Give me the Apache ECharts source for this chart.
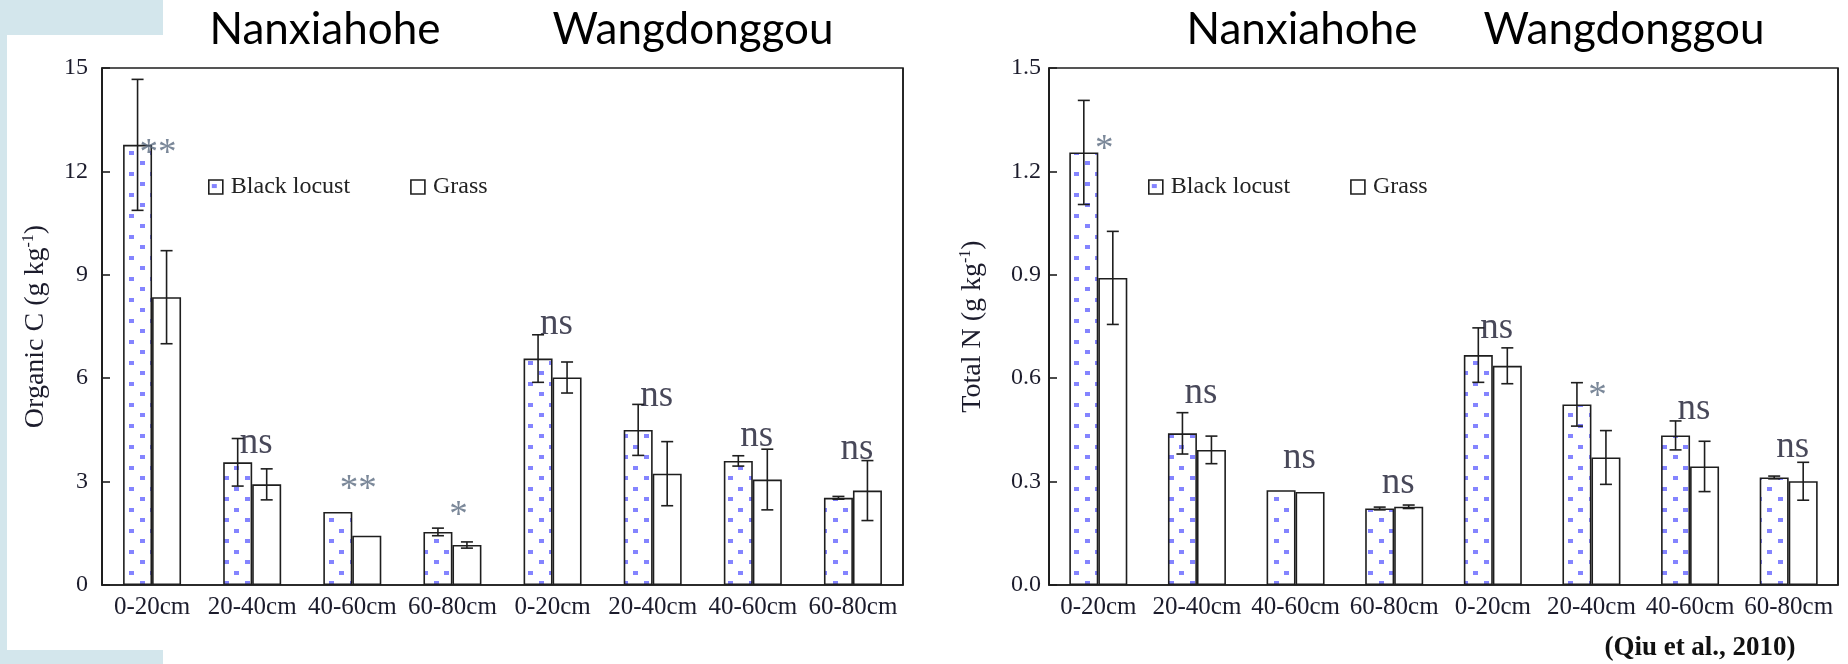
<!DOCTYPE html>
<html>
<head>
<meta charset="utf-8">
<script src="https://cdn.jsdelivr.net/npm/echarts@6/dist/echarts.min.js"></script>
<style>
html, body { margin: 0; padding: 0; background: #fff; }
#chart { width: 1848px; height: 664px; }
</style>
</head>
<body>
<div id="chart"></div>
<script>
// depth classes, repeated for the two catchments
const depths = ['0-20cm', '20-40cm', '40-60cm', '60-80cm'];
const categories = depths.concat(depths);
const sites = ['Nanxiahohe', 'Wangdonggou'];

// Organic C (g/kg)
const carbonLocust = [12.77, 3.56, 2.12, 1.54, 6.57, 4.50, 3.60, 2.53];
const carbonLocustErr = [1.90, 0.69, 0, 0.11, 0.69, 0.74, 0.15, 0.04];
const carbonGrass = [8.35, 2.92, 1.43, 1.16, 6.02, 3.23, 3.06, 2.74];
const carbonGrassErr = [1.35, 0.45, 0, 0.09, 0.45, 0.93, 0.88, 0.87];
const carbonSig = ['**', 'ns', '**', '*', 'ns', 'ns', 'ns', 'ns'];
const carbonSigAt = [12.8, 4.1, 3.05, 2.27, 7.57, 5.48, 4.32, 3.95];

// Total N (g/kg)
const nitrogenLocust = [1.255, 0.440, 0.275, 0.222, 0.667, 0.524, 0.434, 0.312];
const nitrogenLocustErr = [0.151, 0.060, 0, 0.004, 0.079, 0.063, 0.042, 0.004];
const nitrogenGrass = [0.891, 0.392, 0.270, 0.227, 0.636, 0.370, 0.344, 0.301];
const nitrogenGrassErr = [0.135, 0.040, 0, 0.005, 0.052, 0.078, 0.073, 0.055];
const nitrogenSig = ['*', 'ns', 'ns', 'ns', 'ns', '*', 'ns', 'ns'];
const nitrogenSigAt = [1.29, 0.557, 0.368, 0.296, 0.745, 0.573, 0.511, 0.401];

const carbonTicks = { min: 0, max: 15, interval: 3 };
const nitrogenTicks = { min: 0, max: 1.5, interval: 0.3 };

const BAR_W = 29;
const INK = '#1e1e1e';
const SERIF = '"Liberation Serif", "Times New Roman", serif';

// dotted fill for black locust bars
const dots = document.createElement('canvas');
dots.width = 21; dots.height = 21;
const dc = dots.getContext('2d');
dc.fillStyle = '#fff';
dc.fillRect(0, 0, 21, 21);
dc.fillStyle = '#8484ff';
dc.fillRect(3, 4, 5, 4);
dc.fillRect(14, 14, 5, 4);
const dotPattern = { image: dots, repeat: 'repeat' };

const myChart = echarts.init(document.getElementById('chart'));

function errorBars(side) {
  return function (params, api) {
    const i = api.value(0), m = api.value(1), e = api.value(2);
    if (!e) return null;
    const top = api.coord([i, m + e]);
    const bot = api.coord([i, m - e]);
    const x = top[0] + side * BAR_W / 2;
    const cap = 6;
    const st = { stroke: INK, lineWidth: 1.6 };
    return {
      type: 'group',
      children: [
        { type: 'line', shape: { x1: x, y1: top[1], x2: x, y2: bot[1] }, style: st },
        { type: 'line', shape: { x1: x - cap, y1: top[1], x2: x + cap, y2: top[1] }, style: st },
        { type: 'line', shape: { x1: x - cap, y1: bot[1], x2: x + cap, y2: bot[1] }, style: st }
      ]
    };
  };
}

function panelSeries(k, locust, locustErr, grass, grassErr, sig, sigAt) {
  return [
    {
      name: 'Black locust', type: 'bar', xAxisIndex: k, yAxisIndex: k,
      data: locust, barWidth: BAR_W, barGap: '0%',
      itemStyle: { color: dotPattern, borderColor: INK, borderWidth: 1.6 }
    },
    {
      name: 'Grass', type: 'bar', xAxisIndex: k, yAxisIndex: k,
      data: grass, barWidth: BAR_W, barGap: '0%',
      itemStyle: { color: '#fff', borderColor: INK, borderWidth: 1.6 }
    },
    {
      type: 'custom', xAxisIndex: k, yAxisIndex: k, clip: false, z: 5,
      renderItem: errorBars(-1),
      data: locust.map((v, i) => [i, v, locustErr[i]])
    },
    {
      type: 'custom', xAxisIndex: k, yAxisIndex: k, clip: false, z: 5,
      renderItem: errorBars(1),
      data: grass.map((v, i) => [i, v, grassErr[i]])
    },
    {
      type: 'scatter', xAxisIndex: k, yAxisIndex: k, symbolSize: 0, z: 6,
      data: sig.map((s, i) => {
        const star = s.indexOf('*') >= 0;
        return {
          value: [i, sigAt[i]],
          label: {
            show: true, position: 'inside', formatter: s,
            fontFamily: SERIF, fontSize: 37,
            color: star ? '#5a6a80' : '#1a1a30',
            offset: star ? [6, 10] : [4, 0]
          }
        };
      })
    }
  ];
}

function xAxisFor(k) {
  return {
    type: 'category', gridIndex: k, data: categories,
    axisLine: { lineStyle: { color: INK, width: 1.6 } },
    axisTick: { inside: true, length: 8, interval: (i) => i !== 4, lineStyle: { color: INK, width: 1.6 } },
    axisLabel: { color: '#1c1c2c', fontFamily: SERIF, fontSize: 25, margin: 10, interval: 0 },
    splitLine: { show: true, interval: (i) => i === 4, lineStyle: { color: INK, width: 1.6 } }
  };
}

function yAxisFor(k, ticks, name, gap, margin, digits) {
  return {
    type: 'value', gridIndex: k, min: ticks.min, max: ticks.max, interval: ticks.interval,
    name: name, nameLocation: 'middle', nameRotate: 90, nameGap: gap,
    nameTextStyle: {
      color: '#1c1c2c', fontFamily: SERIF, fontSize: 28,
      rich: { sup: { fontFamily: SERIF, fontSize: 16, verticalAlign: 'top', padding: [0, 0, 13, 0], color: '#1c1c2c' } }
    },
    axisLine: { show: true, lineStyle: { color: INK, width: 1.6 } },
    axisTick: { show: true, inside: true, length: 8, lineStyle: { color: INK, width: 1.6 } },
    axisLabel: {
      color: '#1c1c2c', fontFamily: SERIF, fontSize: 24, margin: margin,
      formatter: (v) => v.toFixed(digits)
    },
    splitLine: { show: false }
  };
}

function legendAt(left) {
  return {
    left: left, top: 170, itemWidth: 14, itemHeight: 14, itemGap: 60,
    icon: 'rect',
    data: ['Black locust', 'Grass'],
    textStyle: { color: '#222', fontFamily: SERIF, fontSize: 24, padding: [0, 0, 0, 3] },
    itemStyle: { borderColor: INK, borderWidth: 1.6 }
  };
}

function titleText(x, text) {
  return {
    type: 'text', x: x, y: 30,
    style: { text: text, fill: '#000', font: '44px Lato, "Open Sans", sans-serif', align: 'center', verticalAlign: 'middle' }
  };
}

const decor = '#d3e6ec';

const option = {
  backgroundColor: '#fff',
  animation: false,
  grid: [
    { left: 102, top: 68, width: 801, height: 517, show: true, borderColor: INK, borderWidth: 1.6, backgroundColor: 'transparent' },
    { left: 1049, top: 68, width: 789, height: 517, show: true, borderColor: INK, borderWidth: 1.6, backgroundColor: 'transparent' }
  ],
  legend: [legendAt(203), legendAt(1143)],
  xAxis: [xAxisFor(0), xAxisFor(1)],
  yAxis: [
    yAxisFor(0, carbonTicks, 'Organic C (g kg{sup|-1})', 52, 14, 0),
    yAxisFor(1, nitrogenTicks, 'Total N (g kg{sup|-1})', 62, 8, 1)
  ],
  graphic: [
    { type: 'rect', shape: { x: 0, y: 0, width: 7, height: 664 }, style: { fill: decor }, silent: true },
    { type: 'rect', shape: { x: 0, y: 0, width: 163, height: 35 }, style: { fill: decor }, silent: true },
    { type: 'rect', shape: { x: 0, y: 650, width: 163, height: 14 }, style: { fill: decor }, silent: true },
    titleText(325, sites[0]),
    titleText(693, sites[1]),
    titleText(1302, sites[0]),
    titleText(1624, sites[1]),
    {
      type: 'text', x: 1700, y: 648,
      style: { text: '(Qiu et al., 2010)', fill: '#111', font: 'bold 27px "Liberation Serif", serif', align: 'center', verticalAlign: 'middle' }
    }
  ],
  series: [].concat(
    panelSeries(0, carbonLocust, carbonLocustErr, carbonGrass, carbonGrassErr, carbonSig, carbonSigAt),
    panelSeries(1, nitrogenLocust, nitrogenLocustErr, nitrogenGrass, nitrogenGrassErr, nitrogenSig, nitrogenSigAt)
  )
};

myChart.setOption(option);
</script>
</body>
</html>
